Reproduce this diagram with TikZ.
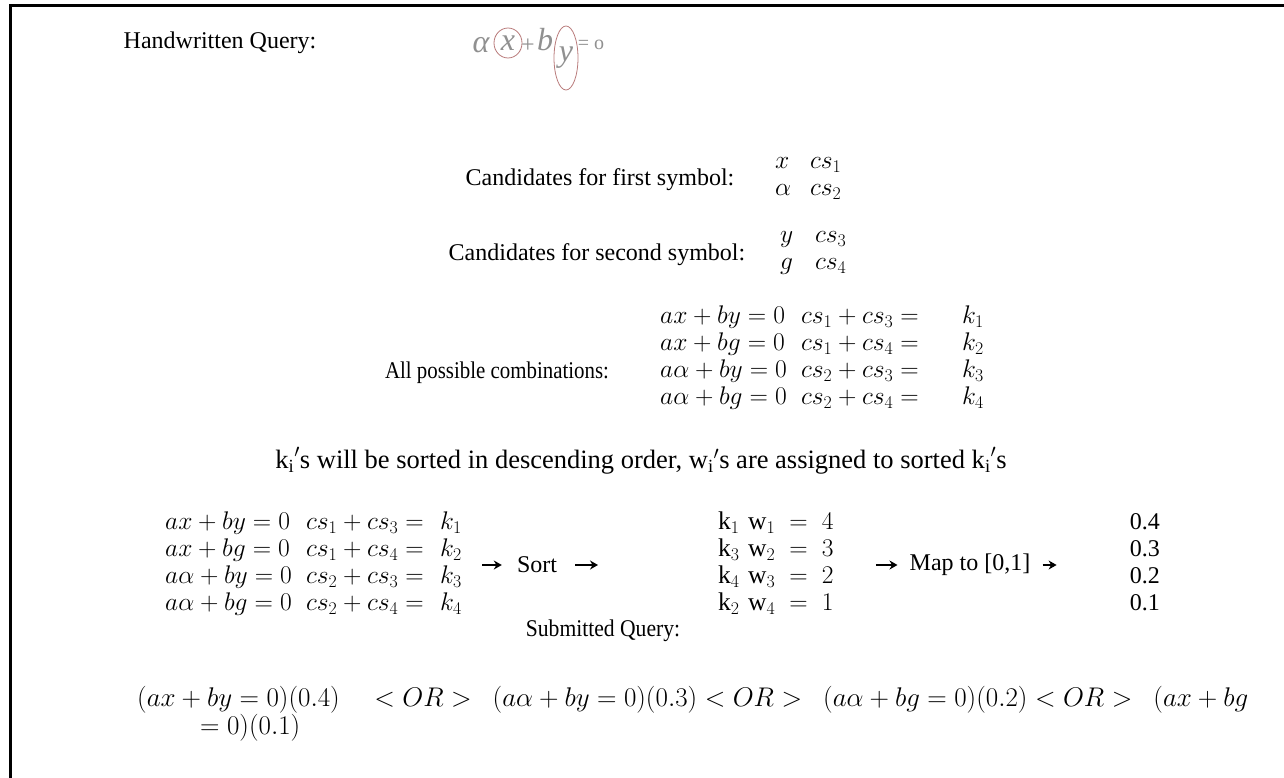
\RequirePackage{fix-cm}
\documentclass[tikz,border=0pt]{standalone}
\usepackage{fontspec}
\setmainfont{Liberation Serif}
\usepackage{graphicx}
\usepackage{tikz}
\usetikzlibrary{positioning,arrows.meta,shapes.geometric}
\definecolor{inkgray}{HTML}{909090}
\definecolor{circred}{HTML}{B87A7A}
\tikzset{
  lbl/.style={inner sep=0pt, font=\fontsize{24}{27}\selectfont},
  blk/.style={inner sep=0pt, anchor=west, font=\fontsize{24}{27}\selectfont},
  mblk/.style={blk, font=\fontsize{25.5}{27}\selectfont},
  flow/.style={-{Stealth[length=8pt,width=9pt]}, line width=1.5pt},
  ink/.style={inner sep=0pt, text=inkgray, font=\fontsize{32}{32}\selectfont\itshape},
  ring/.style={draw=circred, ellipse, line width=0.8pt, inner sep=0pt},
  frame/.style={line width=3pt}
}

\begin{document}
\begin{tikzpicture}[x=1pt, y=-1pt]
  \useasboundingbox (0,0) rectangle (1284,778);
  \draw[frame] (10,778) -- (10,6) -- (1284,6);

  % query as written by hand
  \node[lbl] (hwlbl) at (220,43) {Handwritten Query:};
  \node[ink] (hwa) at (481,45) {α};
  \node[ink, ring, minimum width=28pt, minimum height=30pt] (hwx) at (508,43) {x};
  \node[ink, font=\fontsize{24}{24}\selectfont] (hwplus) at (528,46) {+};
  \node[ink] (hwb) at (545,40) {b};
  \node[ink, ring, minimum width=24pt, minimum height=64pt] (hwy) at (566,58) {y};
  \node[ink, font=\fontsize{20}{20}\selectfont] (hweq) at (591,45) {= o};

  % candidates
  \node[lbl] (c1lbl) at (600,180) {Candidates for first symbol:};
  \node[mblk] (cand1) at (775,177) {\begin{tabular}{@{}p{35pt}@{}l@{}}
    $x$ & $cs_1$\\
    $\alpha$ & $cs_2$
  \end{tabular}};
  \node[lbl] (c2lbl) at (597,255) {Candidates for second symbol:};
  \node[mblk] (cand2) at (780,251) {\begin{tabular}{@{}p{35pt}@{}l@{}}
    $y$ & $cs_3$\\
    $g$ & $cs_4$
  \end{tabular}};

  % all combinations
  \node[lbl] (cmblbl) at (497,373) {\scalebox{0.87}[1]{All possible combinations:}};
  \node[mblk] (combos) at (660,359) {\begin{tabular}{@{}p{141pt}@{}p{161pt}@{}l@{}}
    $ax+by=0$ & $cs_1+cs_3=$ & $k_1$\\
    $ax+bg=0$ & $cs_1+cs_4=$ & $k_2$\\
    $a\alpha+by=0$ & $cs_2+cs_3=$ & $k_3$\\
    $a\alpha+bg=0$ & $cs_2+cs_4=$ & $k_4$
  \end{tabular}};

  \node[lbl, font=\fontsize{26.5}{29}\selectfont] (sortnote) at (641,461) {$\mathrm{k_i}'\mathrm{s}$ will be sorted in descending order, $\mathrm{w_i}'\mathrm{s}$ are assigned to sorted $\mathrm{k_i}'\mathrm{s}$};

  % sorting and mapping
  \node[mblk] (sel) at (165,565) {\begin{tabular}{@{}p{141pt}@{}p{134pt}@{}l@{}}
    $ax+by=0$ & $cs_1+cs_3=$ & $k_1$\\
    $ax+bg=0$ & $cs_1+cs_4=$ & $k_2$\\
    $a\alpha+by=0$ & $cs_2+cs_3=$ & $k_3$\\
    $a\alpha+bg=0$ & $cs_2+cs_4=$ & $k_4$
  \end{tabular}};
  \node[lbl] (sort) at (537,565) {Sort};
  \node[mblk] (sorted) at (718,565) {\begin{tabular}{@{}p{30pt}@{}l@{}}
    $\mathrm{k}_1$ & $\mathrm{w}_1\;=\;4$\\
    $\mathrm{k}_3$ & $\mathrm{w}_2\;=\;3$\\
    $\mathrm{k}_4$ & $\mathrm{w}_3\;=\;2$\\
    $\mathrm{k}_2$ & $\mathrm{w}_4\;=\;1$
  \end{tabular}};
  \node[lbl] (map) at (970,565) {Map to [0,1]};
  \node[blk, anchor=east] (vals) at (1160,565) {\begin{tabular}{@{}r@{}}
    0.4\\ 0.3\\ 0.2\\ 0.1
  \end{tabular}};
  \draw[flow, shorten <=20pt, shorten >=15pt] (sel.east) -- (sort.west);
  \draw[flow, shorten <=18pt, shorten >=120pt] (sort.east) -- (sorted.west);
  \draw[flow, shorten <=42pt, shorten >=12pt] (sorted.east) -- (map.west);
  \draw[flow, shorten <=12pt, shorten >=73pt] (map.east) -- (vals.west);

  % final query
  \node[lbl] (subqlbl) at (603,631) {\scalebox{0.9}[1]{Submitted Query:}};
  \node[blk, font=\fontsize{27}{29}\selectfont] (subq) at (137,700) {$(ax+by=0)(0.4)\quad <OR>\ \ (a\alpha+by=0)(0.3) <OR>\ \ (a\alpha+bg=0)(0.2) <OR>\ \ (ax+bg$};
  \node[blk, font=\fontsize{27}{29}\selectfont] (subq2) at (200,728) {$=0)(0.1)$};
\end{tikzpicture}
\end{document}
